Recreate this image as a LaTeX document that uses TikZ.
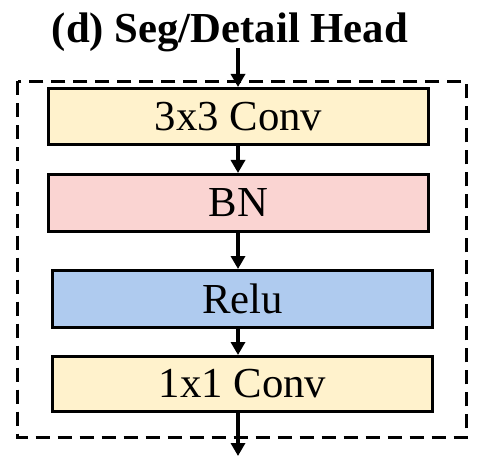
\documentclass[tikz,border=0pt]{standalone}
\usepackage{fontspec}
\setmainfont{Liberation Serif}
\usepackage{tikz}
\usepackage{xcolor}
\usetikzlibrary{arrows.meta}
\definecolor{convy}{HTML}{FFF2CC}
\definecolor{bnred}{HTML}{FAD4D2}
\definecolor{reluble}{HTML}{AFCBEF}
\def\lbl{\fontsize{42.9}{50}\selectfont}

\begin{document}
\begin{tikzpicture}[x=1bp,y=-1bp,
  every node/.style={align=center,inner sep=0pt},
  blk/.style={draw,line width=3bp,minimum width=380bp,minimum height=56bp,font=\lbl},
  arr/.style={line width=4bp,-{Triangle[width=14bp,length=13bp]}}]
\useasboundingbox (0,0) rectangle (488,466);

\node[anchor=base,font=\lbl\bfseries] (title) at (230,43) {(d) Seg/Detail Head};
\draw[line width=3bp,dash pattern=on 14bp off 8bp] (17.5,81.5) rectangle (466.5,437.5); % <- head border

\node[blk,fill=convy] (conv3) at (238.5,116.5) {3x3 Conv};
\node[blk,fill=bnred,minimum height=57bp] (bn) at (238.5,203) {BN};
\node[blk,fill=reluble,minimum height=57bp] (relu) at (242.5,299) {Relu};
\node[blk,fill=convy,minimum height=55bp] (conv1) at (242.5,384) {1x1 Conv};

\coordinate (in) at (238,48);
\coordinate (out) at (238,456);
\draw[arr] (in) -- (in |- conv3.north);
\draw[arr] (in |- conv3.south) -- (in |- bn.north);
\draw[arr] (in |- bn.south) -- (in |- relu.north);
\draw[arr] (in |- relu.south) -- (in |- conv1.north);
\draw[arr] (in |- conv1.south) -- (out);
\end{tikzpicture}
\end{document}
